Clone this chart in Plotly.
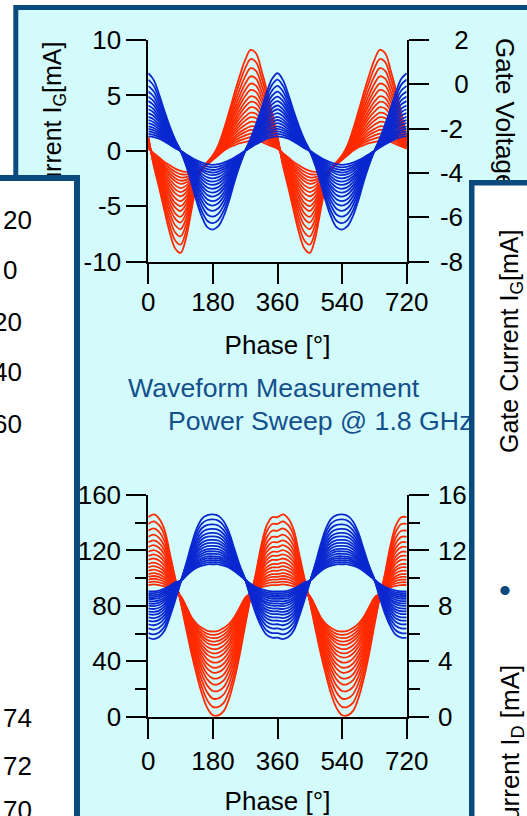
import plotly.graph_objects as go

# ---------------- data ----------------
phase_period = [0, 15, 30, 45, 60, 75, 90, 105, 120, 135, 150, 165,
                180, 195, 210, 225, 240, 255, 270, 285, 300, 315, 330, 345]
phase_ticks = [0, 180, 360, 540, 720]

# top panel: gate current [mA] (left axis), gate voltage [V] (right axis)
ig_outer = [1.3, -1.3, -3.3, -5.4, -7.4, -8.8, -9.2, -7.9, -5.4, -3.0, -1.6, -1.0,
            -0.4, 0.5, 1.9, 3.5, 5.2, 6.8, 8.2, 9.1, 8.8, 7.3, 5.5, 3.4]
ig_inner = [0.2, -0.2, -0.6, -1.0, -1.3, -1.6, -1.8, -1.9, -1.9, -1.8, -1.6, -1.2,
            -0.8, -0.4, 0.0, 0.3, 0.5, 0.7, 0.8, 0.9, 0.9, 0.8, 0.6, 0.4]
vg_outer = [0.5, 0.2, -0.45, -1.2, -1.9, -2.5, -3.0, -3.65, -4.45, -5.3, -6.0, -6.45,
            -6.55, -6.4, -5.95, -5.25, -4.4, -3.65, -3.0, -2.45, -1.8, -1.1, -0.35, 0.25]
vg_inner = [-2.35, -2.38, -2.45, -2.58, -2.73, -2.88, -3.0, -3.15, -3.3, -3.43, -3.53, -3.6,
            -3.63, -3.6, -3.53, -3.43, -3.3, -3.15, -3.0, -2.85, -2.7, -2.58, -2.45, -2.38]

# bottom panel: drain current [mA] (left axis), drain voltage [V] (right axis)
id_outer = [144, 146, 143, 135, 118, 100, 83, 64, 46, 30, 16, 6,
            1, 1, 4, 13, 27, 45, 66, 86, 104, 124, 138, 144]
id_inner = [95, 95.5, 95, 94, 92, 90, 87, 80, 72, 67, 64, 62,
            61.5, 62, 64, 67, 72, 79, 86, 89, 91.5, 93.5, 94.5, 95]
vd_outer = [5.7, 5.6, 5.75, 6.2, 7.2, 8.4, 9.7, 11.0, 12.4, 13.6, 14.3, 14.55,
            14.6, 14.5, 14.1, 13.3, 12.1, 10.9, 9.9, 8.6, 7.4, 6.5, 5.9, 5.7]
vd_inner = [9.05, 9.05, 9.1, 9.25, 9.45, 9.7, 9.8, 10.15, 10.5, 10.75, 10.9, 11.0,
            11.0, 11.0, 10.9, 10.75, 10.5, 10.2, 9.9, 9.6, 9.35, 9.2, 9.1, 9.05]

# relative drive levels of the power sweep (0 = lowest, 1 = highest)
sweep_levels = [0, 0.04, 0.08, 0.12, 0.16, 0.21, 0.26, 0.31, 0.37, 0.43,
                0.49, 0.56, 0.63, 0.71, 0.80, 0.90, 1.0]

top_left_ticks = [-10, -5, 0, 5, 10]
top_right_ticks = [-8, -6, -4, -2, 0, 2]
bot_left_ticks = [0, 40, 80, 120, 160]
bot_right_ticks = [0, 4, 8, 12, 16]

# texts of the neighbouring (partly hidden) slides
left_panel_labels = ["20", "0", "20", "40", "60", "74", "72", "70"]

# ---------------- helpers ----------------
W, H = 527, 816
FONT = "Liberation Sans, Arial, sans-serif"
RED = "#ff2a00"
BLUE = "#0a28d0"
NAVY = "#0b4a7c"
CYAN = "#d3fbfb"


def px(x):
    return x / W


def py(y):
    return 1 - y / H


two_periods = phase_period + [p + 360 for p in phase_period] + [720]


def tile(vals):
    return vals + vals + [vals[0]]


def family(inner, outer):
    a, b = tile(inner), tile(outer)
    return [[ai + f * (bi - ai) for ai, bi in zip(a, b)] for f in sweep_levels]


def lab(v):
    return ("-" + str(abs(v))) if v < 0 else str(v)


def rlab(v):
    return ("-" + str(abs(v))) if v < 0 else "\u2007" + str(v)


fig = go.Figure()

LW = 1.8
for curve in family(ig_inner, ig_outer):
    fig.add_trace(go.Scatter(x=two_periods, y=curve, mode="lines", xaxis="x", yaxis="y",
                             line=dict(color=RED, width=LW, shape="spline"), showlegend=False))
for curve in family(vg_inner, vg_outer):
    fig.add_trace(go.Scatter(x=two_periods, y=curve, mode="lines", xaxis="x", yaxis="y2",
                             line=dict(color=BLUE, width=LW, shape="spline"), showlegend=False))
for curve in family(id_inner, id_outer):
    fig.add_trace(go.Scatter(x=two_periods, y=curve, mode="lines", xaxis="x2", yaxis="y3",
                             line=dict(color=RED, width=LW, shape="spline"), showlegend=False))
for curve in family(vd_inner, vd_outer):
    fig.add_trace(go.Scatter(x=two_periods, y=curve, mode="lines", xaxis="x2", yaxis="y4",
                             line=dict(color=BLUE, width=LW, shape="spline"), showlegend=False))

axis_common = dict(showline=True, linecolor="black", linewidth=2, ticks="outside",
                   ticklen=20, tickwidth=2, tickcolor="black", showgrid=False,
                   zeroline=False, tickfont=dict(family=FONT, size=26, color="black"),
                   fixedrange=True, automargin=False)

xdom = [px(148.3), px(406.7)]
top_dom = [py(261.7), py(40)]
bot_dom = [py(716.7), py(495)]

fig.update_layout(
    width=W, height=H, autosize=False,
    margin=dict(l=0, r=0, t=0, b=0, pad=0, autoexpand=False),
    paper_bgcolor="white", plot_bgcolor=CYAN,
    font=dict(family=FONT, size=26, color="black"),
    xaxis=dict(axis_common, domain=xdom, anchor="y", range=[0, 720],
               tickvals=phase_ticks, ticktext=[str(t) for t in phase_ticks],
               ticklabelstandoff=-4,
               title=dict(text="Phase [°]", font=dict(family=FONT, size=26), standoff=20)),
    yaxis=dict(axis_common, domain=top_dom, anchor="x", range=[-10, 10],
               tickvals=top_left_ticks, ticktext=[lab(t) for t in top_left_ticks]),
    yaxis2=dict(axis_common, overlaying="y", side="right", anchor="x", range=[-8, 2],
                tickvals=top_right_ticks, ticktext=[rlab(t) for t in top_right_ticks],
                ticklabelstandoff=6),
    xaxis2=dict(axis_common, domain=xdom, anchor="y3", range=[0, 720],
                tickvals=phase_ticks, ticktext=[str(t) for t in phase_ticks],
                ticklabelstandoff=0,
                title=dict(text="Phase [°]", font=dict(family=FONT, size=26), standoff=18)),
    yaxis3=dict(axis_common, domain=bot_dom, anchor="x2", range=[0, 160],
                tickvals=bot_left_ticks, ticktext=[lab(t) for t in bot_left_ticks],
                minor=dict(ticks="outside", ticklen=11, tickwidth=2, tickcolor="black",
                           dtick=20, showgrid=False)),
    yaxis4=dict(axis_common, overlaying="y3", side="right", anchor="x2", range=[0, 16],
                tickvals=bot_right_ticks, ticktext=[lab(t) for t in bot_right_ticks],
                ticklabelstandoff=4,
                minor=dict(ticks="outside", ticklen=11, tickwidth=2, tickcolor="black",
                           dtick=2, showgrid=False)),
)

# cyan slide panel with navy border (behind the plots)
fig.add_shape(type="rect", xref="paper", yref="paper", layer="below",
              x0=px(15.8), x1=px(600), y0=py(7.5), y1=py(900),
              fillcolor=CYAN, line=dict(color=NAVY, width=5))

ann = []
# axis titles of the top chart (partly hidden by the neighbouring panels)
ann.append(dict(text="Gate Current I<sub>G</sub>[mA]", x=px(54), y=py(154), textangle=-90,
                font=dict(family=FONT, size=25, color="black")))
ann.append(dict(text="Gate Voltage V<sub>G</sub> [V]", x=px(504), y=py(152), textangle=90,
                font=dict(family=FONT, size=26, color="black")))
# captions
ann.append(dict(text="Waveform Measurement", x=px(126), y=py(388), xanchor="left",
                font=dict(family=FONT, size=26.7, color="#14508c")))
ann.append(dict(text="Power Sweep @ 1.8 GHz", x=px(166), y=py(421), xanchor="left",
                font=dict(family=FONT, size=26.7, color="#14508c")))
# neighbouring white panels
ann.append(dict(text="\u00a0", x=px(-20), y=py(175), xanchor="left", yanchor="top",
                width=100 - 12, height=700 - 12, borderpad=0, borderwidth=6,
                bgcolor="white", bordercolor=NAVY))
ann.append(dict(text="\u00a0", x=px(469), y=py(180), xanchor="left", yanchor="top",
                width=120 - 11, height=700 - 11, borderpad=0, borderwidth=5.5,
                bgcolor="white", bordercolor=NAVY))
# texts inside the left panel
left_pos = [(220, "left", 1), (270, "left", 1), (322, "right", 24), (372, "right", 24),
            (424, "right", 24), (718, "left", 1), (766, "left", 1), (810, "left", 1)]
for t, (y, xa, x) in zip(left_panel_labels, left_pos):
    ann.append(dict(text=t, x=px(x), y=py(y), xanchor=xa,
                    font=dict(family=FONT, size=26, color="black")))
# texts inside the right panel
ann.append(dict(text="Gate Current I<sub>G</sub>[mA]", x=px(511), y=py(342), textangle=-90,
                font=dict(family=FONT, size=25, color="black")))
ann.append(dict(text="•", x=px(504.5), y=py(590), font=dict(family=FONT, size=34, color=NAVY)))
ann.append(dict(text="Drain Current I<sub>D</sub> [mA]", x=px(511), y=py(787), textangle=-90,
                font=dict(family=FONT, size=26, color="black")))

for a in ann:
    a.setdefault("xref", "paper")
    a.setdefault("yref", "paper")
    a.setdefault("showarrow", False)
    a.setdefault("xanchor", "center")
    a.setdefault("yanchor", "middle")
    fig.add_annotation(**a)

fig.write_html("out.html")
